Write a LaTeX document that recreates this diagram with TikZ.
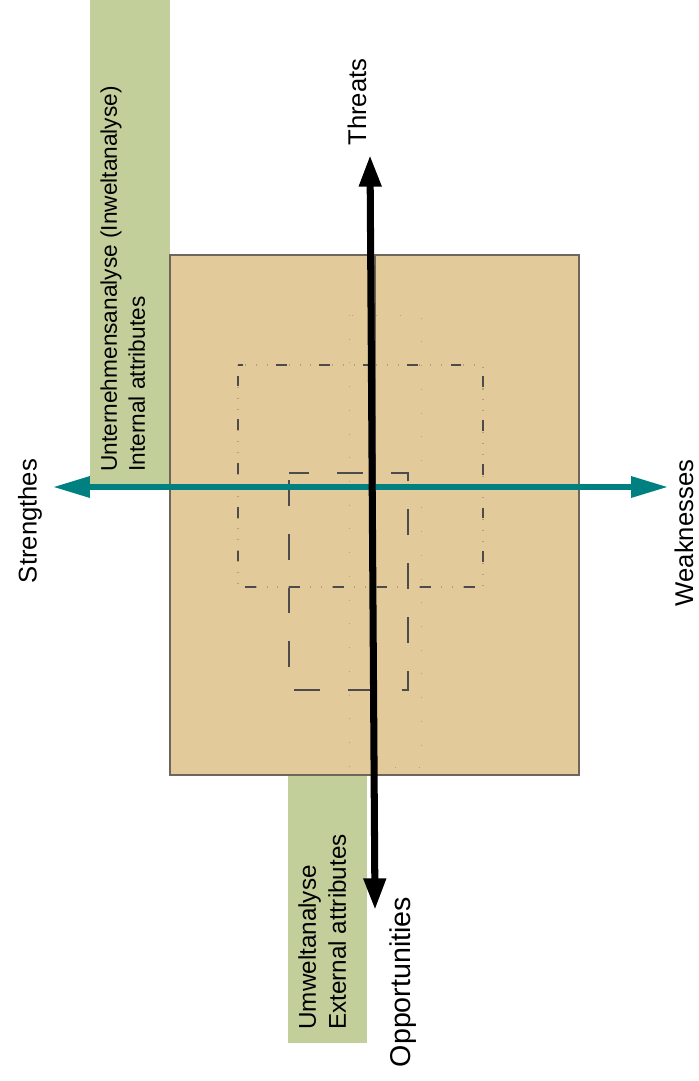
\documentclass[tikz,border=0pt]{standalone}
\usepackage{fontspec}
\setmainfont{Liberation Sans}
\usetikzlibrary{calc}
\usetikzlibrary{arrows.meta}
\definecolor{boxtan}{RGB}{227,202,154}
\definecolor{boxedge}{RGB}{110,102,90}
\definecolor{bandgreen}{RGB}{195,207,155}
\definecolor{axisteal}{RGB}{0,128,128}
\definecolor{dotbrown}{RGB}{185,160,115}
\tikzstyle{band} = [fill=bandgreen]
\tikzstyle{field} = [fill=boxtan, draw=boxedge, line width=0.6pt]
\tikzstyle{bandtext} = [rotate=90, anchor=north west, inner sep=0pt, align=left]
\tikzstyle{axistext} = [rotate=90, inner sep=0pt, font=\fontsize{14.6}{17}\selectfont]
\tikzstyle{outerdots} = [draw=dotbrown, line width=0.6pt, dash pattern=on 0.6pt off 5.6pt]
\tikzstyle{outerzone} = [draw=black!70, line width=0.7pt, dash pattern=on 6.2pt off 18.7pt, dash phase=-6pt]
\tikzstyle{innerzone} = [draw=black!70, line width=0.7pt, dash pattern=on 14.7pt off 15.9pt, dash phase=-4pt]
\tikzstyle{corezone} = [draw=dotbrown, line width=0.5pt, dash pattern=on 0.5pt off 13pt]
\tikzstyle{vaxis} = [draw=black, line width=4pt, {Triangle[length=18pt, width=12pt]}-{Triangle[length=18pt, width=12pt]}]
\tikzstyle{haxis} = [draw=axisteal, line width=3.2pt, {Triangle[length=21pt, width=11.5pt]}-{Triangle[length=21pt, width=11.5pt]}]

\begin{document}
\begin{tikzpicture}[x=0.02cm, y=-0.02cm]
    \useasboundingbox (0,0) rectangle (698,1081);

    % green bands
    \fill[band] (90,0) rectangle (170,487);
    \fill[band] (288,775) rectangle (367,1043);

    % field
    \draw[field] (170,255) rectangle (375,775);
    \draw[field] (375,255) rectangle (579,775);

    % zones
    \draw[corezone] (349,315) rectangle (421,767);
    \draw[outerdots] (238,365) rectangle (483,587);
    \draw[outerzone] (238,365) rectangle (483,587);
    \draw[innerzone] (289,473) rectangle (408,690);

    % axes
    \coordinate (str_tip) at (53,487);
    \coordinate (weak_tip) at (668,487);
    \coordinate (threats_tip) at (370,155);
    \coordinate (opp_tip) at (375,910);
    \draw[haxis] (str_tip) -- (weak_tip);
    \draw[vaxis] (threats_tip) -- (opp_tip);

    % labels
    \node[axistext] (threats) at (357,102) {Threats};
    \node[axistext, font=\fontsize{16.3}{19}\selectfont] (opp) at (403,982) {Opportunities};
    \node[axistext] (strengths) at (30,521) {Strengthes};
    \node[axistext] (weak) at (684,533) {Weaknesses};
    \node[bandtext, font=\fontsize{12.9}{16}\selectfont] (internal) at (100,472) {Unternehmensanalyse (Inweltanalyse)\\Internal attributes};
    \node[bandtext, font=\fontsize{13.8}{17}\selectfont] (external) at (298,1030) {Umweltanalyse\\External attributes};
\end{tikzpicture}
\end{document}
